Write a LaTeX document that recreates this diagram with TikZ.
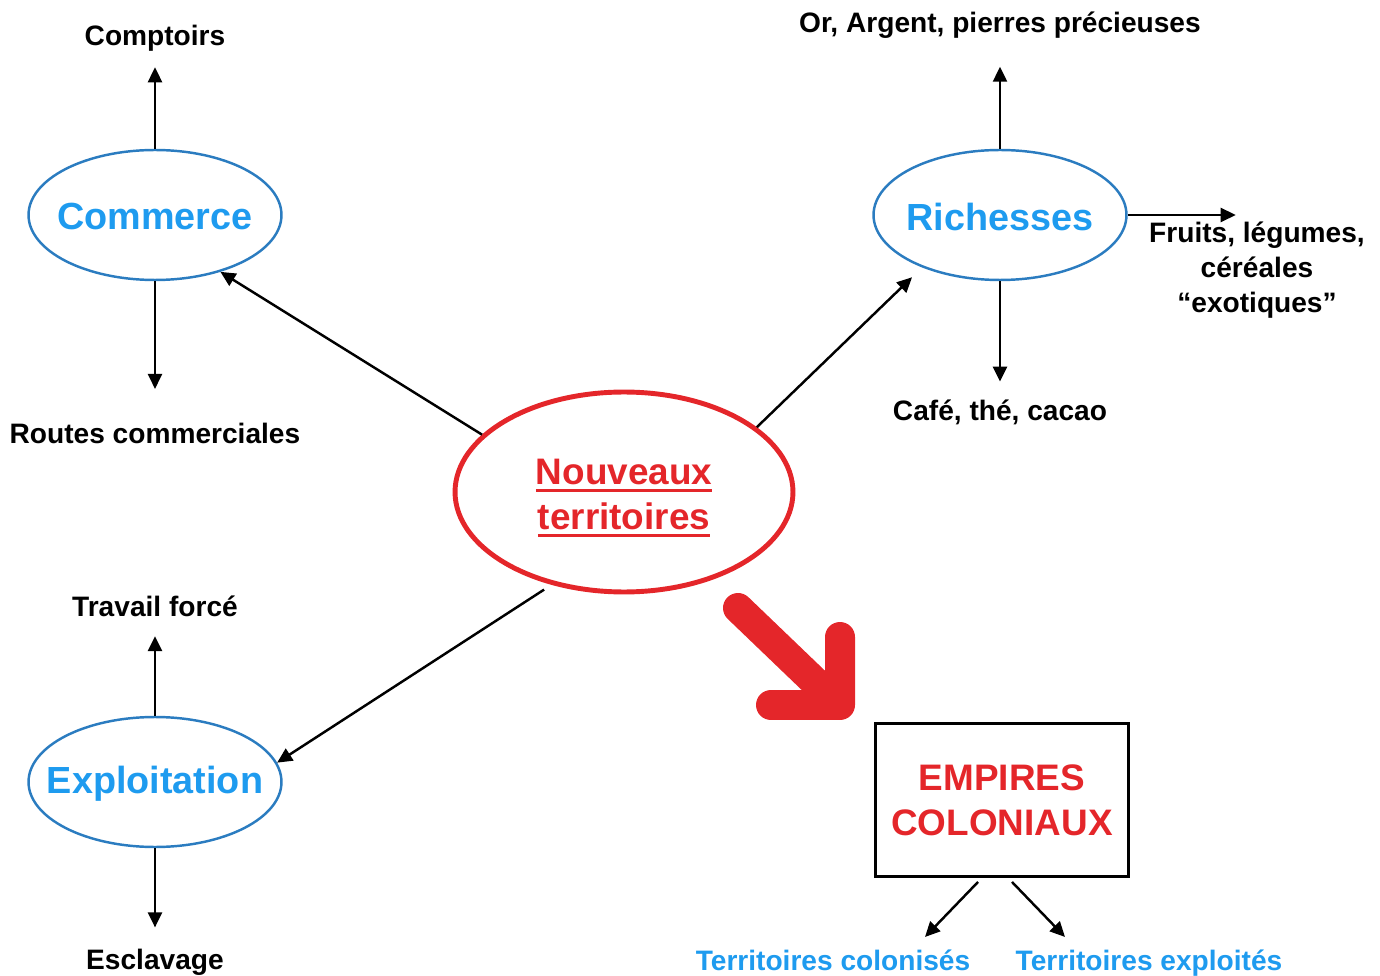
\documentclass[tikz,border=0pt]{standalone}
\usepackage{fontspec}
\setmainfont{Liberation Sans}
\usetikzlibrary{shapes.geometric}
\usetikzlibrary{arrows.meta}
\usetikzlibrary{calc}
\definecolor{bleutxt}{HTML}{1E9BEF}
\definecolor{bleutrait}{HTML}{2B7CC0}
\definecolor{rouge}{HTML}{E4262A}
\newcommand{\souligne}[1]{\setbox0=\hbox{#1}\rlap{\rule[-4pt]{\wd0}{1.5pt}}\box0}
\tikzset{theme/.style={ellipse,draw=bleutrait,line width=1.4pt,minimum width=5.06cm,minimum height=2.6cm},
 themetxt/.style={text=bleutxt,font=\bfseries\fontsize{21.5}{26}\selectfont},
 grand/.style={font=\bfseries\fontsize{21}{25.5}\selectfont,align=center},
 petit/.style={font=\bfseries\fontsize{16}{19.8}\selectfont,align=center,inner sep=0pt},
 fl/.style={line width=1.4pt,-{Triangle[length=3mm,width=2.8mm]}},
 }

\begin{document}
\begin{tikzpicture}[x=0.02cm,y=-0.02cm]
        \useasboundingbox (0,0) rectangle (1380,976);

        % centre
        \node[ellipse,draw=rouge,line width=2.8pt,minimum width=6.76cm,minimum height=4cm,
            label={[grand,text=rouge,yshift=-3.4pt]center:{\souligne{Nouveaux}\\\souligne{territoires}}}] (nt) at (624,492) {};

        % les trois themes
        \node[theme,label={[themetxt,yshift=-1pt]center:Commerce}] (com) at (155,215) {};
        \node[theme,label={[themetxt,yshift=-1pt]center:Richesses}] (rich) at (1000,215) {};
        \node[theme,label={[themetxt,yshift=-1pt]center:Exploitation}] (expl) at (155,782) {};

        \node[petit] (comptoirs) at (155,38) {Comptoirs};
        \node[petit] (routes) at (155,433) {Routes commerciales};
        \node[petit] (metaux) at (1000,25) {Or, Argent, pierres précieuses};
        \node[petit] (cafe) at (1000,412) {Café, thé, cacao};
        \node[petit] (fruits) at (1257,270) {Fruits, légumes,\\céréales\\“exotiques”};
        \node[petit] (travail) at (155,606) {Travail forcé};
        \node[petit] (esclavage) at (155,962) {Esclavage};

        \draw[fl] (nt.158) -- (com.-41);
        \draw[fl, shorten >=8pt] (nt.26) -- (rich.-146);
        \draw[fl, shorten <=5pt] (nt.-128) -- (expl.9);

        \draw[fl, shorten >=9pt] (com) -- (comptoirs);
        \draw[fl, shorten >=19pt] (com) -- (routes);
        \draw[fl, shorten >=16pt] (rich) -- (metaux);
        \draw[fl, shorten >=10pt] (rich) -- (cafe);
        \draw[fl] (rich.east) -- ++(108,0);
        \draw[fl, shorten >=11pt] (expl) -- (travail);
        \draw[fl, shorten >=12pt] (expl) -- (esclavage);

        % grosse fleche rouge
        \draw[rouge, line width=0.6cm, line cap=round, line join=round]
            (738,608) -- (838,704) (771,705) -- (840,705) -- (840,637);

        % empires
        \node[grand,draw,line width=1.7pt,text=rouge,minimum width=5.06cm,minimum height=3.06cm] (emp) at (1002,800) {EMPIRES\\COLONIAUX};
        \node[petit,text=bleutxt,anchor=base] (colon) at (833,970) {Territoires colonisés};
        \node[petit,text=bleutxt,anchor=base] (exploit) at (1149,970) {Territoires exploités};

        \draw[fl] ($(emp.south)+(-24,4)$) -- ++(-53,55);
        \draw[fl] ($(emp.south)+(10,4)$) -- ++(53,55);
\end{tikzpicture}
\end{document}
